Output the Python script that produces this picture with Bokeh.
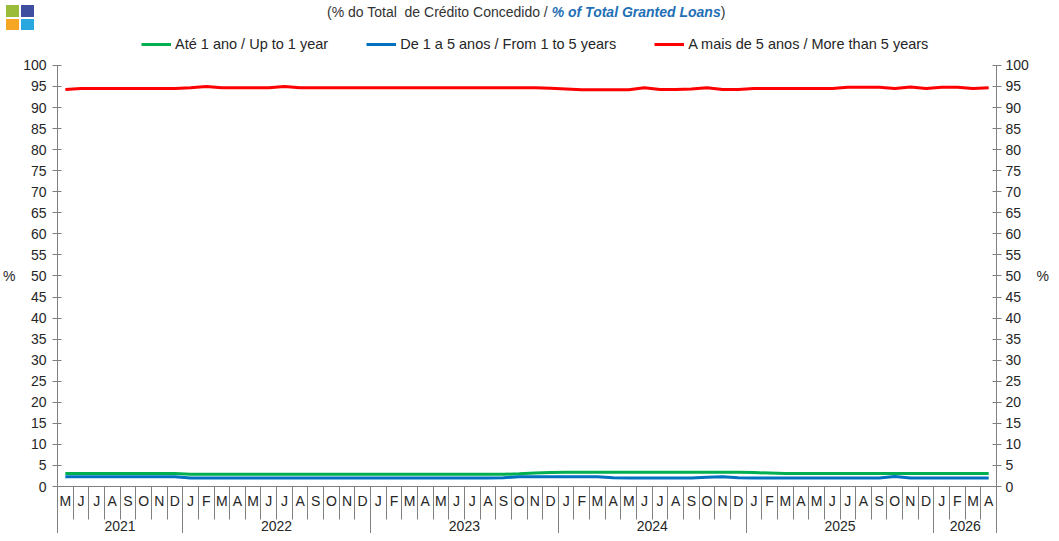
from bokeh.plotting import figure
from bokeh.models import Range1d, LinearAxis, FixedTicker, Legend, LegendItem, Div
from bokeh.layouts import column
from bokeh.embed import file_html
from bokeh.resources import INLINE

# ---------------- data ----------------
months = (["M", "J", "J", "A", "S", "O", "N", "D"]
          + ["J", "F", "M", "A", "M", "J", "J", "A", "S", "O", "N", "D"] * 4
          + ["J", "F", "M", "A"])
years = ["2021", "2022", "2023", "2024", "2025", "2026"]
months_per_year = [8, 12, 12, 12, 12, 4]

# Até 1 ano / Up to 1 year
ate_1_ano = ([3.1] * 8 + [2.9] * 20 + [2.9, 3.0, 3.2, 3.3]
             + [3.4] * 12 + [3.3, 3.2] + [3.1] * 14)
# De 1 a 5 anos / From 1 to 5 years
de_1_a_5 = ([2.3] * 8 + [2.0] * 20 + [2.1] + [2.3] * 6 + [2.1]
            + [2.0] * 5 + [2.2, 2.3, 2.1] + [2.0] * 9 + [2.4] + [2.0] * 6)
# A mais de 5 anos / More than 5 years
mais_5 = ([94.3] + [94.5] * 7 + [94.7, 95.0, 94.7, 94.7, 94.7, 94.7, 95.0]
          + [94.7] * 16 + [94.6]
          + [94.4, 94.2, 94.2, 94.2, 94.2, 94.7, 94.3, 94.3, 94.4, 94.7, 94.3, 94.3]
          + [94.5] * 6 + [94.8, 94.8, 94.8, 94.5, 94.9, 94.5]
          + [94.8, 94.8, 94.5, 94.7])

series_labels = ["Até 1 ano / Up to 1 year",
                 "De 1 a 5 anos / From 1 to 5 years",
                 "A mais de 5 anos / More than 5 years"]
colors = ["#00B050", "#0070C0", "#FF0000"]
title_plain = "(% do Total  de Crédito Concedido / "
title_bold = "% of Total Granted Loans"
yticks = list(range(0, 101, 5))
unit_label = "%"

# ---------------- layout constants ----------------
n = len(months)
xc = [i + 0.5 for i in range(n)]
bounds = [0]
for m in months_per_year:
    bounds.append(bounds[-1] + m)
year_centers = [(bounds[k] + bounds[k + 1]) / 2 for k in range(len(years))]
mid_tick = yticks[len(yticks) // 2]

FONT = "Liberation Sans"
AX = "#808080"
TXT = "#262626"
W = 1051
HEAD_H = 23
FIG_H = 500
PLOT_PX = 422          # pixels between 0 and 100
TOP_PAD_PX = 32        # frame space above the 100 tick (legend lives there)
y_end = yticks[-1] * (1 + TOP_PAD_PX / PLOT_PX)

header = Div(
    width=W, height=HEAD_H,
    text=(
        f'<div style="position:relative;width:{W}px;height:{HEAD_H}px;font-family:\'Liberation Sans\';'
        f'font-size:14px;color:#333333;">'
        '<div style="position:absolute;left:1px;top:0px;width:13px;height:12px;background:#9BBB3B"></div>'
        '<div style="position:absolute;left:16px;top:0px;width:13px;height:12px;background:#3F4E9E"></div>'
        '<div style="position:absolute;left:1px;top:14px;width:13px;height:11px;background:#F5A623"></div>'
        '<div style="position:absolute;left:16px;top:14px;width:13px;height:11px;background:#29A8E0"></div>'
        f'<div style="position:absolute;left:322px;top:-1px;white-space:pre;line-height:16px">{title_plain}'
        f'<span style="color:#1F6FB5;font-weight:bold;font-style:italic">{title_bold}</span>)</div>'
        '</div>'
    ),
)

p = figure(width=W, height=FIG_H, x_range=Range1d(0, n), y_range=Range1d(0, y_end),
           output_backend="svg", toolbar_location=None,
           x_axis_location=None, y_axis_location=None,
           min_border_left=0, min_border_right=0, min_border_top=0, min_border_bottom=46)
p.xgrid.visible = False
p.ygrid.visible = False
p.outline_line_color = None
p.background_fill_color = "white"
p.border_fill_color = "white"

renderers = []
for ys, c in zip([ate_1_ano, de_1_a_5, mais_5], colors):
    r = p.line(xc, ys, line_color=c, line_width=3)
    renderers.append(r)


def label_style(ax, standoff):
    ax.major_label_text_font = FONT
    ax.major_label_text_font_size = "14px"
    ax.major_label_text_color = TXT
    ax.major_label_standoff = standoff
    ax.minor_tick_line_color = None


def value_axis(standoff):
    ax = LinearAxis(ticker=FixedTicker(ticks=yticks), bounds=(yticks[0], yticks[-1]))
    ax.axis_line_color = AX
    ax.major_tick_line_color = AX
    ax.major_tick_in = 4
    ax.major_tick_out = 5
    label_style(ax, standoff)
    return ax


def unit_axis(standoff):
    ax = LinearAxis(ticker=FixedTicker(ticks=[mid_tick]),
                    major_label_overrides={mid_tick: unit_label})
    ax.axis_line_color = None
    ax.major_tick_line_color = None
    ax.major_tick_in = 0
    ax.major_tick_out = 0
    label_style(ax, standoff)
    return ax


p.add_layout(value_axis(6), "left")
p.add_layout(unit_axis(5), "left")
p.add_layout(value_axis(4), "right")
p.add_layout(unit_axis(5), "right")

# month axis (separators drawn as outward minor ticks)
xm = LinearAxis(ticker=FixedTicker(ticks=xc, minor_ticks=list(range(n + 1))),
                major_label_overrides={x: m for x, m in zip(xc, months)})
xm.axis_line_color = AX
xm.major_tick_line_color = None
xm.major_tick_in = 0
xm.major_tick_out = 0
xm.minor_tick_line_color = AX
xm.minor_tick_in = -33
xm.minor_tick_out = 0
xm.major_label_standoff = 6
xm.major_label_text_font = FONT
xm.major_label_text_font_size = "14px"
xm.major_label_text_color = TXT
p.add_layout(xm, "below")

# year axis
xy = LinearAxis(ticker=FixedTicker(ticks=year_centers, minor_ticks=bounds),
                major_label_overrides={x: y for x, y in zip(year_centers, years)})
xy.axis_line_color = None
xy.major_tick_line_color = None
xy.major_tick_in = 0
xy.major_tick_out = 0
xy.minor_tick_line_color = AX
xy.minor_tick_in = -30
xy.minor_tick_out = 0
xy.major_label_standoff = 9
xy.major_label_text_font = FONT
xy.major_label_text_font_size = "14px"
xy.major_label_text_color = TXT
p.add_layout(xy, "below")

legend = Legend(items=[LegendItem(label=l, renderers=[r]) for l, r in zip(series_labels, renderers)],
                orientation="horizontal", location=(84, PLOT_PX + TOP_PAD_PX - 20),
                glyph_width=30, glyph_height=16,
                label_standoff=4, spacing=38, padding=0, margin=0,
                border_line_color=None, background_fill_alpha=0,
                label_text_font=FONT, label_text_font_size="14.5px", label_text_color=TXT,
                label_height=16)
p.add_layout(legend)

layout = column(header, p, spacing=0)
open("out.html", "w").write(file_html(layout, INLINE))
